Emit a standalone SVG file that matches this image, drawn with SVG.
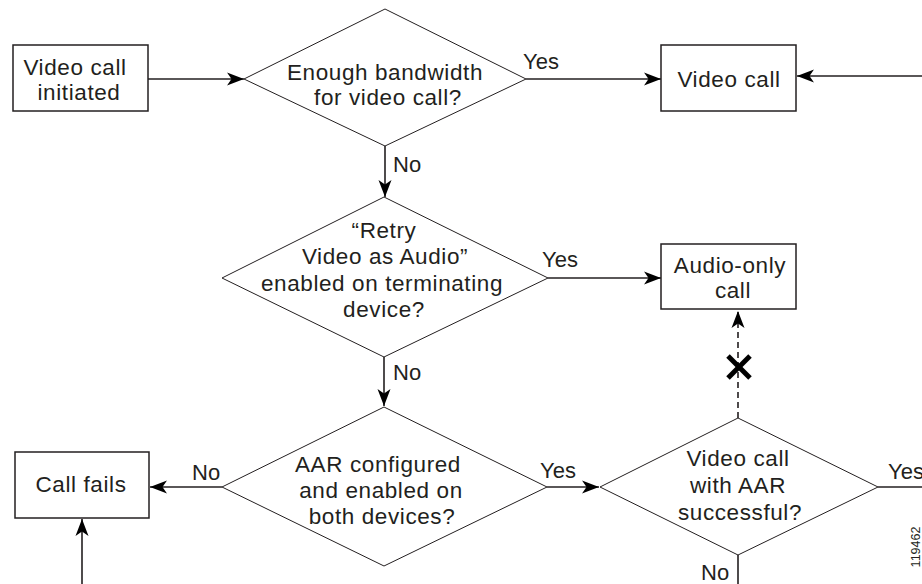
<svg xmlns="http://www.w3.org/2000/svg" width="922" height="584" viewBox="0 0 922 584">
  <style>
    .box { fill: #fff; stroke: #231f20; stroke-width: 1.5; }
    .dia { fill: #fff; stroke: #231f20; stroke-width: 1; }
    .t { font-family: "Liberation Sans", Arial, Helvetica, sans-serif; font-size: 22.5px; letter-spacing: 0.6px; fill: #231f20; text-anchor: middle; }
    .lbl { font-family: "Liberation Sans", Arial, Helvetica, sans-serif; font-size: 22px; fill: #231f20; }
    .c { fill: none; stroke: #231f20; stroke-width: 1.6; }
    .dash { fill: none; stroke: #231f20; stroke-width: 1.6; stroke-dasharray: 6 4; }
    .x { stroke: #000; stroke-width: 5; stroke-linecap: butt; }
    .fig { font-family: "Liberation Sans", Arial, Helvetica, sans-serif; font-size: 12.5px; fill: #231f20; text-anchor: middle; }
  </style>
  <defs>
    <marker id="ah" viewBox="-18 -7 19 14" refX="0" refY="0" markerWidth="19" markerHeight="14" markerUnits="userSpaceOnUse" orient="auto">
      <path d="M0,0 L-17,-6.5 L-12.5,0 L-17,6.5 Z" fill="#000"/>
    </marker>
  </defs>

  <g id="connectors">
    <line class="c" x1="148" y1="79" x2="244" y2="79" marker-end="url(#ah)"/>
    <line class="c" x1="526" y1="79" x2="661" y2="79" marker-end="url(#ah)"/>
    <line class="c" x1="922" y1="76" x2="797" y2="76" marker-end="url(#ah)"/>
    <line class="c" x1="385" y1="146" x2="385" y2="197" marker-end="url(#ah)"/>
    <line class="c" x1="548" y1="278" x2="661" y2="278" marker-end="url(#ah)"/>
    <line class="c" x1="384" y1="357" x2="384" y2="406" marker-end="url(#ah)"/>
    <line class="c" x1="222" y1="487" x2="150" y2="487" marker-end="url(#ah)"/>
    <line class="c" x1="547" y1="487" x2="599" y2="487" marker-end="url(#ah)"/>
    <line class="c" x1="82" y1="584" x2="82" y2="519" marker-end="url(#ah)"/>
    <line class="dash" x1="738" y1="418" x2="738" y2="311" marker-end="url(#ah)"/>
    <line class="c" x1="878" y1="487" x2="922" y2="487"/>
    <line class="c" x1="738" y1="555" x2="738" y2="584"/>
    <line class="x" x1="728" y1="356" x2="750" y2="378"/>
    <line class="x" x1="750" y1="356" x2="728" y2="378"/>
    <text class="lbl" x="523" y="69">Yes</text>
    <text class="lbl" x="393" y="172">No</text>
    <text class="lbl" x="542" y="267">Yes</text>
    <text class="lbl" x="393" y="380">No</text>
    <text class="lbl" x="192" y="480">No</text>
    <text class="lbl" x="540" y="478">Yes</text>
    <text class="lbl" x="888" y="479">Yes</text>
    <text class="lbl" x="701" y="580">No</text>
  </g>

  <g id="n-initiated">
    <rect class="box" x="13" y="45" width="135" height="66"/>
    <text class="t" x="75" y="74.5">Video call</text>
    <text class="t" x="79" y="99.5">initiated</text>
  </g>

  <g id="d-bandwidth">
    <polygon class="dia" points="244,79 385,9 526,79 385,146"/>
    <text class="t" x="385" y="80">Enough bandwidth</text>
    <text class="t" x="388" y="105">for video call?</text>
  </g>

  <g id="n-videocall">
    <rect class="box" x="661" y="45" width="135" height="66"/>
    <text class="t" x="729" y="87">Video call</text>
  </g>

  <g id="d-retry">
    <polygon class="dia" points="222,278 384,197 548,278 384,357"/>
    <text class="t" x="384" y="238">“Retry</text>
    <text class="t" x="385" y="264">Video as Audio”</text>
    <text class="t" x="382" y="291">enabled on terminating</text>
    <text class="t" x="384" y="317">device?</text>
  </g>

  <g id="n-audioonly">
    <rect class="box" x="661" y="244" width="135" height="65"/>
    <text class="t" x="730" y="273">Audio-only</text>
    <text class="t" x="733" y="298">call</text>
  </g>

  <g id="d-aar">
    <polygon class="dia" points="222,487 384,407 547,487 384,566"/>
    <text class="t" x="378" y="472">AAR configured</text>
    <text class="t" x="381" y="498">and enabled on</text>
    <text class="t" x="382" y="524">both devices?</text>
  </g>

  <g id="n-callfails">
    <rect class="box" x="15" y="452" width="134" height="66"/>
    <text class="t" x="81" y="492">Call fails</text>
  </g>

  <g id="d-aarsuccess">
    <polygon class="dia" points="600,487 738,418 878,487 738,555"/>
    <text class="t" x="738" y="466">Video call</text>
    <text class="t" x="738" y="493">with AAR</text>
    <text class="t" x="740" y="520">successful?</text>
  </g>

  <text class="fig" transform="translate(919.5,547) rotate(-90)">119462</text>
</svg>
